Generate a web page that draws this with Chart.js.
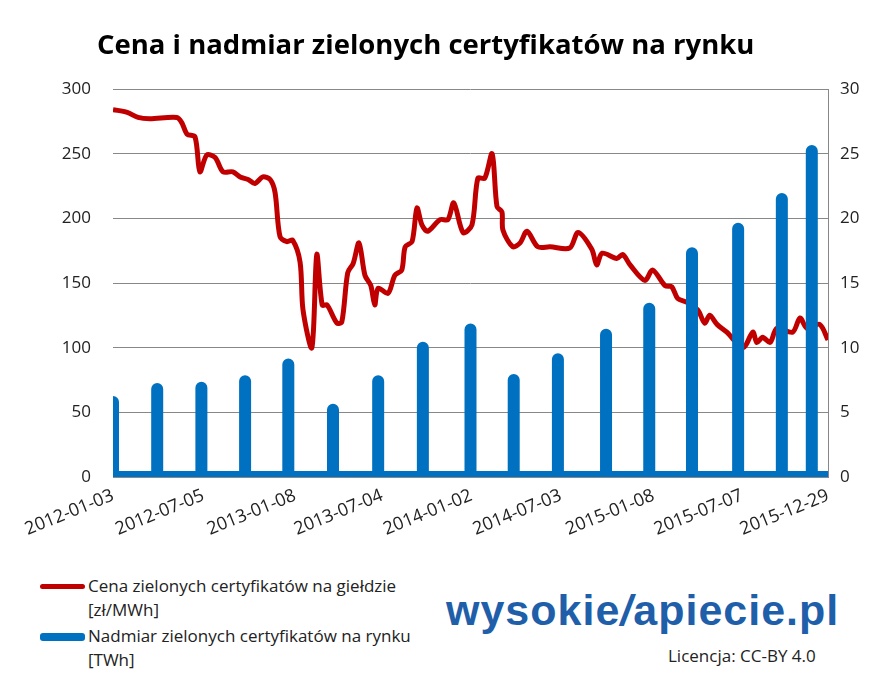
<!DOCTYPE html>
<html><head><meta charset="utf-8">
<script src="https://cdn.jsdelivr.net/npm/chart.js@4"></script>
<style>
body{margin:0;width:880px;height:699px;background:#fff;font-family:"Liberation Sans",Arial,sans-serif;position:relative;overflow:hidden}
#title{position:absolute;top:25px;left:97px;white-space:nowrap;font:bold 27.5px "Open Sans",sans-serif;color:#000}
#wrap{position:absolute;left:0;top:0;width:880px;height:550px}
.leg{position:absolute;left:40px;font:17px "Open Sans",sans-serif;color:#222;line-height:24px}
.leg span.sw{position:absolute;left:0;top:10px;width:45px;height:5px;border-radius:3px}
.leg div{padding-left:48px}
#logo{position:absolute;left:446px;top:586px;font:bold 43px "Liberation Sans",Arial,sans-serif;color:#1f5faa;letter-spacing:1px}
#lic{position:absolute;left:668px;top:644px;font:17px "Open Sans",sans-serif;color:#222}
</style></head><body>
<div id="wrap"><canvas id="c"></canvas></div>
<div id="title">Cena i nadmiar zielonych certyfikatów na rynku</div>
<div class="leg" style="top:574px"><span class="sw" style="background:#c00000"></span><div>Cena zielonych certyfikatów na giełdzie<br>[zł/MWh]</div></div>
<div class="leg" style="top:624px"><span class="sw" style="background:#0070c0;height:8px;top:9px"></span><div>Nadmiar zielonych certyfikatów na rynku<br>[TWh]</div></div>
<div id="logo">wysokie<span style="font-style:italic">/</span>apiecie.pl</div>
<div id="lic">Licencja: CC-BY 4.0</div>
<script>
const startDate = "2012-01-03";
const tickDates = ["2012-01-03","2012-07-05","2013-01-08","2013-07-04","2014-01-02","2014-07-03","2015-01-08","2015-07-07","2015-12-29"];
// days since startDate
const priceDays = [0,29,51,75,130,140,151,167,177,191,208,224,244,259,275,289,305,320,330,340,354,366,381,387,405,415,426,436,456,466,478,489,501,513,525,533,540,560,574,588,595,609,619,629,641,666,682,694,713,731,743,757,772,782,792,794,814,829,843,865,890,930,947,975,985,996,1026,1038,1053,1083,1099,1124,1138,1150,1169,1191,1205,1215,1230,1250,1283,1303,1311,1323,1338,1352,1384,1399,1413,1439,1456];
const priceValues = [284,282,278,277,278,274,265,263,236,249,247,236,236,232,230,227,232,230,220,186,182,183,166,129,100,172,133,133,119,120,158,165,181,156,148,133,146,142,156,160,178,182,208,195,190,199,199,212,189,195,231,231,250,209,205,191,178,181,190,178,178,177,189,176,164,173,169,172,164,152,160,148,147,138,135,129,119,125,118,112,100,112,104,108,104,115,112,123,115,118,106];
const surplusDays = [0,90,180,269,357,448,540,631,728,816,906,1004,1092,1179,1273,1362,1423];
const surplusValues = [5.8,6.8,6.9,7.4,8.7,5.2,7.4,10,11.4,7.5,9.1,11,13,17.3,19.2,21.5,25.2];
const leftTicks = [0,50,100,150,200,250,300];
const rightTicks = [0,5,10,15,20,25,30];

const t0 = Date.parse(startDate);
const dayOf = s => Math.round((Date.parse(s)-t0)/86400000);
const tickDays = tickDates.map(dayOf);
const priceData = priceDays.map((d,i)=>({x:d,y:priceValues[i]}));
const surplusData = [];
surplusDays.forEach((d,i)=>{surplusData.push({x:d,y:0},{x:d,y:surplusValues[i]},{x:d,y:0});});
surplusData.push({x:tickDays[tickDays.length-1],y:0});

new Chart(document.getElementById('c'),{
 type:'line',
 data:{datasets:[
  {data:surplusData,yAxisID:'y2',borderColor:'#0070c0',borderWidth:12,borderCapStyle:'round',borderJoinStyle:'round',pointRadius:0,tension:0,order:1},
  {data:priceData,yAxisID:'y',borderColor:'#c00000',borderWidth:5,pointRadius:0,tension:0.3,borderJoinStyle:'round',order:2}
 ]},
 options:{responsive:true,maintainAspectRatio:false,animation:false,
  layout:{padding:{top:89,left:0,right:0,bottom:0}},
  plugins:{legend:{display:false},tooltip:{enabled:false}},
  scales:{
   x:{type:'linear',min:0,max:tickDays[tickDays.length-1],
      afterBuildTicks:s=>{s.ticks=tickDays.map(v=>({value:v}));},
      afterFit:s=>{s.height=73;},
      ticks:{autoSkip:false,minRotation:22,maxRotation:22,color:'#222',font:{size:18,family:'Open Sans'},padding:8,
        callback:(v)=>{const i=tickDays.indexOf(v);return i>=0?tickDates[i]:'';}},
      grid:{display:false,drawTicks:true,tickLength:0},border:{color:'#888',width:1}},
   y:{position:'left',min:0,max:300,
      afterBuildTicks:s=>{s.ticks=leftTicks.map(v=>({value:v}));},
      afterFit:s=>{s.width=113;},
      ticks:{color:'#222',font:{size:17,family:'Open Sans'},padding:22},
      grid:{color:'#888',drawTicks:false},border:{display:false}},
   y2:{position:'right',min:0,max:30,
      afterBuildTicks:s=>{s.ticks=rightTicks.map(v=>({value:v}));},
      afterFit:s=>{s.width=52;},
      ticks:{color:'#222',font:{size:17,family:'Open Sans'},padding:12},
      grid:{display:false,drawTicks:false},border:{color:'#888',width:1}}
  }}
});
</script>
</body></html>
